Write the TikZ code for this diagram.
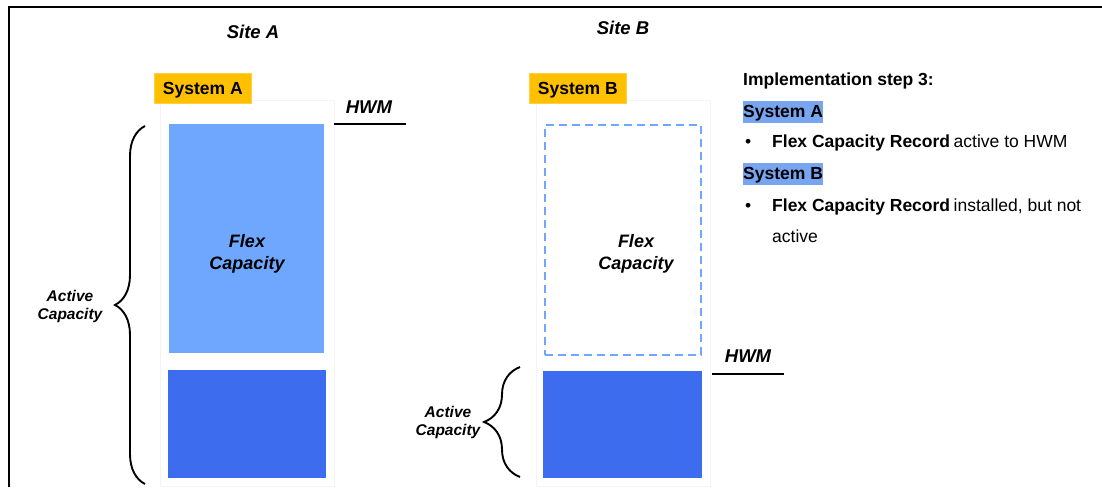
\documentclass[tikz,border=0pt]{standalone}
\usepackage{fontspec}
\setmainfont{Liberation Sans}
\usetikzlibrary{decorations.pathreplacing}
\definecolor{flexblue}{RGB}{111,167,255}
\definecolor{darkblue}{RGB}{61,108,238}
\definecolor{tagorange}{RGB}{255,192,0}
\definecolor{hlblue}{RGB}{120,165,240}
\definecolor{faintgray}{RGB}{244,244,244}
\begin{document}
\begin{tikzpicture}[x=1pt,y=-1pt,
  sitetitle/.style={font=\fontsize{18.5}{20}\selectfont\bfseries\itshape, inner sep=0pt, anchor=base},
  tagbox/.style={fill=tagorange, draw=tagorange!75!white, line width=0.6pt, anchor=north west, inner sep=0pt,
    text height=12.5pt, text depth=0pt, font=\fontsize{17.5}{20}\selectfont\bfseries},
  columnbox/.style={draw=faintgray, line width=0.8pt, anchor=north west, inner sep=0pt},
  flexbox/.style={fill=flexblue, anchor=north west, inner sep=0pt},
  dashbox/.style={draw=flexblue, line width=1.6pt, dash pattern=on 8pt off 5pt, anchor=north west, inner sep=0pt},
  activebox/.style={fill=darkblue, anchor=north west, inner sep=0pt},
  boxlabel/.style={font=\fontsize{18}{20}\selectfont\bfseries\itshape, inner sep=0pt, anchor=base},
  sidelabel/.style={font=\fontsize{15.5}{17}\selectfont\bfseries\itshape, inner sep=0pt, anchor=base},
  hwmtext/.style={font=\fontsize{18.5}{20}\selectfont\bfseries\itshape, inner sep=0pt, anchor=base},
  hwmline/.style={line width=2.2pt},
  bracestyle/.style={decorate, decoration={brace, amplitude=#1}, line width=1.9pt},
  notes/.style={font=\fontsize{17.5}{20}\selectfont, inner sep=0pt, anchor=base west},
  hilite/.style={fill=hlblue, inner xsep=0.5pt, inner ysep=2pt, text height=14pt, text depth=3.5pt,
    anchor=base west, font=\fontsize{17.5}{20}\selectfont\bfseries}
]
\useasboundingbox (0,0) rectangle (1102,487);
% frame
\draw[line width=1.8pt] (9,487) -- (9,7) -- (1102,7);

% titles
\node[sitetitle] (siteA) at (253,38) {Site A};
\node[sitetitle] (siteB) at (623,35) {Site B};

% columns
\node[columnbox, minimum width=174pt, minimum height=386pt] (colA) at (160,100) {};
\node[columnbox, minimum width=174pt, minimum height=386pt] (colB) at (536,100) {};

% tags
\node[tagbox, minimum width=97pt, minimum height=30pt] (tagA) at (154,73) {System A};
\node[tagbox, minimum width=97pt, minimum height=30pt] (tagB) at (529,73) {System B};

% system A blocks
\node[flexbox, minimum width=155pt, minimum height=229pt] (flexA) at (169,124) {};
\node[activebox, minimum width=158pt, minimum height=108pt] (actA) at (168,370) {};
\node[boxlabel] (flexAt1) at (247,247) {Flex};
\node[boxlabel] (flexAt2) at (247,269) {Capacity};

% system B blocks
\node[dashbox, minimum width=156pt, minimum height=230pt] (flexB) at (544,124) {};
\node[activebox, minimum width=159pt, minimum height=107pt] (actB) at (543,371) {};
\node[boxlabel] (flexBt1) at (636,247) {Flex};
\node[boxlabel] (flexBt2) at (636,269) {Capacity};

% HWM markers
\node[hwmtext] (hwmAt) at (369,113) {HWM};
\coordinate (hwmA1) at (334,124);
\coordinate (hwmA2) at (406,124);
\draw[hwmline] (hwmA1) -- (hwmA2);
\node[hwmtext] (hwmBt) at (748,362) {HWM};
\coordinate (hwmB1) at (712,374);
\coordinate (hwmB2) at (784,374);
\draw[hwmline] (hwmB1) -- (hwmB2);

% braces
\coordinate (brA1) at (145,484);
\coordinate (brA2) at (145,126);
\draw[bracestyle=30pt] (brA1) -- (brA2);
\node[sidelabel] (actAt1) at (70,301) {Active};
\node[sidelabel] (actAt2) at (70,319) {Capacity};

\coordinate (brB1) at (520,477);
\coordinate (brB2) at (520,367);
\draw[bracestyle=36pt] (brB1) -- (brB2);
\node[sidelabel] (actBt1) at (448,417) {Active};
\node[sidelabel] (actBt2) at (448,435) {Capacity};

% notes
\node[notes, font=\fontsize{17.5}{20}\selectfont\bfseries] (impl) at (743,85) {Implementation step 3:};
\node[hilite] (hlA) at (742.5,117) {System A};
\node[notes] (noteA) at (743,147) {\makebox[29pt][l]{\hspace{2pt}•}\textbf{Flex Capacity Record}\hspace{3.5pt}active to HWM};
\node[hilite] (hlB) at (742.5,179) {System B};
\node[notes] (noteB) at (743,211) {\makebox[29pt][l]{\hspace{2pt}•}\textbf{Flex Capacity Record}\hspace{3.5pt}installed, but not};
\node[notes] (noteB2) at (772,242) {active};
\end{tikzpicture}
\end{document}
